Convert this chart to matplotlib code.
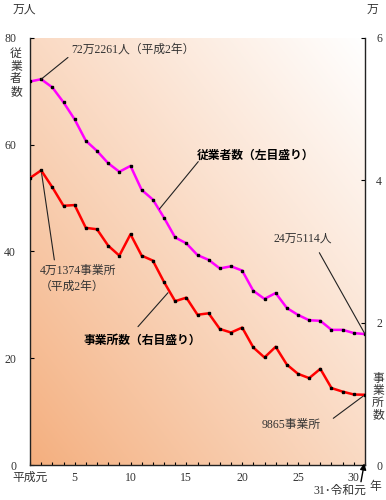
"""
Employees and establishments by year (Heisei 1 - Reiwa 1), two-scale line chart
"""
import numpy as np
import matplotlib
matplotlib.use('Agg')
import matplotlib.pyplot as plt

plt.rcParams['font.family'] = ['Liberation Serif', 'Noto Sans CJK JP', 'DejaVu Sans']

# year number (平成元 = 1, 31 = 令和元)
years = list(range(1, 32))
# employees, 万人 (left scale)
employees = [71.8, 72.2261, 70.7, 67.9, 64.7, 60.7, 58.8, 56.5, 54.9, 56.0,
             51.5, 49.7, 46.3, 42.6, 41.5, 39.3, 38.4, 36.8, 37.2, 36.4,
             32.6, 31.1, 32.2, 29.4, 28.1, 27.1, 27.0, 25.3, 25.3, 24.7, 24.5114]
# establishments, 万 (right scale)
establishments = [4.03, 4.1374, 3.90, 3.64, 3.65, 3.33, 3.31, 3.08, 2.94, 3.24,
                  2.94, 2.87, 2.57, 2.30, 2.35, 2.11, 2.13, 1.91, 1.86, 1.93,
                  1.65, 1.51, 1.66, 1.41, 1.28, 1.22, 1.35, 1.08, 1.03, 0.99, 0.9865]

xtick_pos = [1, 5, 10, 15, 20, 25, 30]
xtick_labels = ['平成元', '5', '10', '15', '20', '25', '30']
left_ticks = [0, 20, 40, 60, 80]
right_ticks = [0, 2, 4, 6]

LEFT_MAX = 80
RIGHT_MAX = 6
scale = LEFT_MAX / RIGHT_MAX

txt_col = '#333333'
cjk = ['Liberation Serif', 'Noto Sans CJK JP']
cjk_bold = ['Noto Sans CJK JP']

fig = plt.figure(figsize=(3.86, 5.0), dpi=100)
ax = fig.add_axes([30 / 386, 1 - 465 / 500, 335 / 386, (465 - 37.7) / 500])

# diagonal gradient background (orange bottom-left -> white top-right)
gx, gy = np.meshgrid(np.linspace(0, 1, 200), np.linspace(0, 1, 200))
t = ((gx + gy) / 2) ** 0.9
c0 = np.array([244, 174, 125]) / 255
c1 = np.array([255, 255, 255]) / 255
grad = c0[None, None, :] * (1 - t[..., None]) + c1[None, None, :] * t[..., None]
ax.imshow(grad, extent=[years[0], years[-1], 0, LEFT_MAX], origin='lower',
          aspect='auto', zorder=0)

ax.plot(years, employees, color='#ff00ff', lw=1.8, marker='s', ms=2.1,
        mfc='black', mec='black', zorder=3)

ax2 = ax.twinx()
ax2.plot(years, establishments, color='#ff0000', lw=1.8, marker='s', ms=2.1,
         mfc='black', mec='black', zorder=3)

ax.set_xlim(years[0], years[-1])
ax.set_ylim(0, LEFT_MAX)
ax2.set_ylim(0, RIGHT_MAX)

for s in ['top', 'right']:
    ax.spines[s].set_visible(False)
for s in ['top', 'left', 'bottom']:
    ax2.spines[s].set_visible(False)
for sp in list(ax.spines.values()) + [ax2.spines['right']]:
    sp.set_linewidth(1.0)
    sp.set_color('#222222')

ax.set_xticks(xtick_pos)
ax.set_xticklabels(xtick_labels)
ax.set_xticks(years, minor=True)
ax.tick_params(axis='x', which='both', direction='in', length=2.5, width=0.8,
               pad=5, labelsize=8.5, labelcolor=txt_col)
ax.set_yticks(left_ticks)
ax.tick_params(axis='y', direction='in', length=3, width=0.8, pad=10,
               labelsize=8.5, labelcolor=txt_col)
ax2.set_yticks(right_ticks)
ax2.tick_params(axis='y', direction='in', length=3, width=0.8, pad=8,
                labelsize=8.5, labelcolor=txt_col)

# axis titles
fig.text(24 / 386, 1 - 10 / 500, '万人', fontsize=8.5, family=cjk, color=txt_col,
         ha='center', va='center')
fig.text(372 / 386, 1 - 10 / 500, '万', fontsize=8.5, family=cjk, color=txt_col,
         ha='center', va='center')
fig.text(16 / 386, 1 - 73 / 500, '\n'.join('従業者数'), fontsize=8.5, family=cjk,
         color=txt_col, ha='center', va='center', linespacing=1.05)
fig.text(378 / 386, 1 - 397 / 500, '\n'.join('事業所数'), fontsize=8.5, family=cjk,
         color=txt_col, ha='center', va='center', linespacing=1.0)

line_kw = dict(arrowstyle='-', color='#222222', lw=0.8, shrinkA=0, shrinkB=0)

# employees, 平成2年
ax.annotate('', xy=(years[1], employees[1]), xytext=(4.40, 76.3), arrowprops=line_kw)
ax.text(4.67, 77.7, '72万2261人（平成2年）', fontsize=8.5, family=cjk,
        color=txt_col, va='center')

# establishments, 平成2年
ax.annotate('', xy=(years[1], establishments[1] * scale), xytext=(3.18, 38.4),
            arrowprops=line_kw)
ax.text(1.90, 36.3, '4万1374事業所', fontsize=8.5, family=cjk, color=txt_col, va='center')
ax.text(1.90, 33.3, '（平成2年）', fontsize=8.5, family=cjk, color=txt_col, va='center')

# series labels
ax.annotate('', xy=(12.58, 47.9), xytext=(16.07, 56.8), arrowprops=line_kw)
ax.text(15.93, 58.0, '従業者数（左目盛り）', fontsize=8.5, family=cjk_bold,
        weight='bold', color='black', va='center')
ax.annotate('', xy=(13.36, 32.26), xytext=(10.67, 25.9), arrowprops=line_kw)
ax.text(5.77, 23.3, '事業所数（右目盛り）', fontsize=8.5, family=cjk_bold,
        weight='bold', color='black', va='center')

# latest values
ax.annotate('', xy=(years[-1], employees[-1]), xytext=(26.91, 39.75),
            arrowprops=line_kw, annotation_clip=False)
ax.text(22.79, 42.3, '24万5114人', fontsize=8.5, family=cjk, color=txt_col, va='center')
ax.annotate('', xy=(years[-1], establishments[-1] * scale), xytext=(28.16, 8.74),
            arrowprops=line_kw, annotation_clip=False)
ax.text(21.75, 7.49, '9865事業所', fontsize=8.5, family=cjk, color=txt_col, va='center')

# 31・令和元 marker below the axis
ax.annotate('', xy=(30.94, 0.3), xytext=(30.64, -3.13),
            arrowprops=dict(arrowstyle='-|>', color='black', lw=1.0,
                            mutation_scale=9, shrinkA=0, shrinkB=0),
            annotation_clip=False)
ax.text(31.15, -4.87, '31･令和元', fontsize=8.5, family=cjk, color=txt_col,
        ha='right', va='center', clip_on=False)
ax.text(31.9, -4.12, '年', fontsize=8.5, family=cjk, color=txt_col,
        ha='center', va='center', clip_on=False)

fig.savefig('out.png', dpi=100)
